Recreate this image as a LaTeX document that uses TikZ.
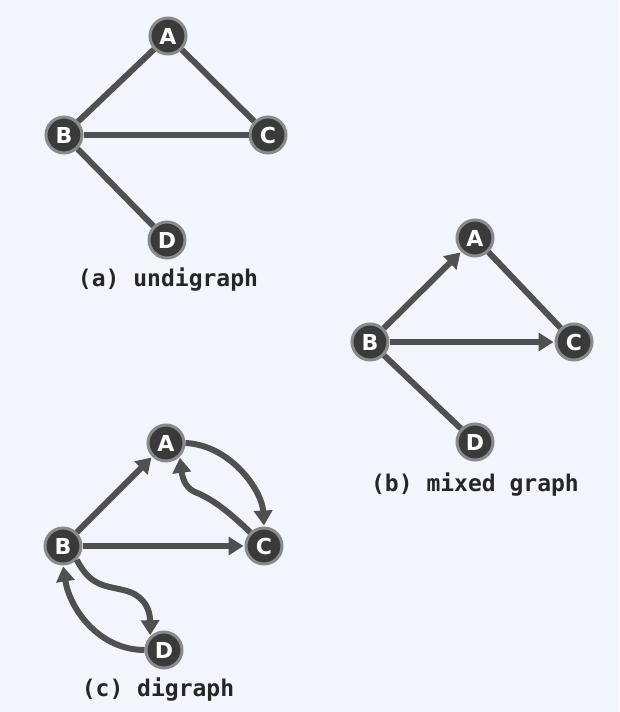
\documentclass[tikz,border=0pt]{standalone}
\usepackage{fontspec}
\setmainfont{DejaVu Sans}
\setmonofont{DejaVu Sans Mono}
\usetikzlibrary{arrows.meta}
\definecolor{bg}{HTML}{F2F6FC}
\definecolor{edge}{HTML}{505050}
\definecolor{nfill}{HTML}{3A3A3A}
\definecolor{nring}{HTML}{8A8A8A}
\begin{document}
\begin{tikzpicture}[x=1pt,y=-1pt,
  vx/.style={circle,fill=nfill,draw=nring,line width=3pt,minimum size=36pt,inner sep=0pt,text=white,font=\bfseries\fontsize{22}{22}\selectfont},
  ed/.style={draw=edge,line width=6pt},
  ar/.style={ed,-{Triangle[length=15pt,width=18pt]},shorten >=1pt},
  lbl/.style={font=\ttfamily\bfseries\fontsize{23}{23}\selectfont,text=black!85}]
\fill[bg] (0,0) rectangle (619,712);
\useasboundingbox (0,0) rectangle (619,712);
% (a)
\node[vx] (aA) at (168,36) {A};
\node[vx] (aB) at (64,135) {B};
\node[vx] (aC) at (268,135) {C};
\node[vx] (aD) at (167,240) {D};
\draw[ed] (aA) -- (aB);
\draw[ed] (aA) -- (aC);
\draw[ed] (aB) -- (aC);
\draw[ed] (aB) -- (aD);
\node[lbl] (la) at (168,280) {(a) undigraph};
% (b)
\node[vx] (bA) at (475,238) {A};
\node[vx] (bB) at (370,342) {B};
\node[vx] (bC) at (574,342) {C};
\node[vx] (bD) at (475,442) {D};
\draw[ar] (bB) -- (bA);
\draw[ed] (bA) -- (bC);
\draw[ar] (bB) -- (bC);
\draw[ed] (bB) -- (bD);
\node[lbl] (lb) at (475,485) {(b) mixed graph};
% (c)
\node[vx] (cA) at (166,443) {A};
\node[vx] (cB) at (63,546) {B};
\node[vx] (cC) at (264,546) {C};
\node[vx] (cD) at (164,650) {D};
\draw[ar] (cB) -- (cA);
\draw[ar] (cB) -- (cC);
\draw[ar] (cA.east) .. controls (230,445) and (262,490) .. (cC.north);
\draw[ar] (cC.north west) .. controls (232,515) and (215,500) .. (195,492) .. controls (188,489) and (183,482) .. (cA.south east);
\draw[ar] (cB.south east) .. controls (92,590) and (110,585) .. (130,592) .. controls (145,598) and (150,610) .. (cD.north west);
\draw[ar] (cD.west) .. controls (100,650) and (70,610) .. (cB.south);
\node[lbl] (lc) at (158,690) {(c) digraph};
\end{tikzpicture}
\end{document}
